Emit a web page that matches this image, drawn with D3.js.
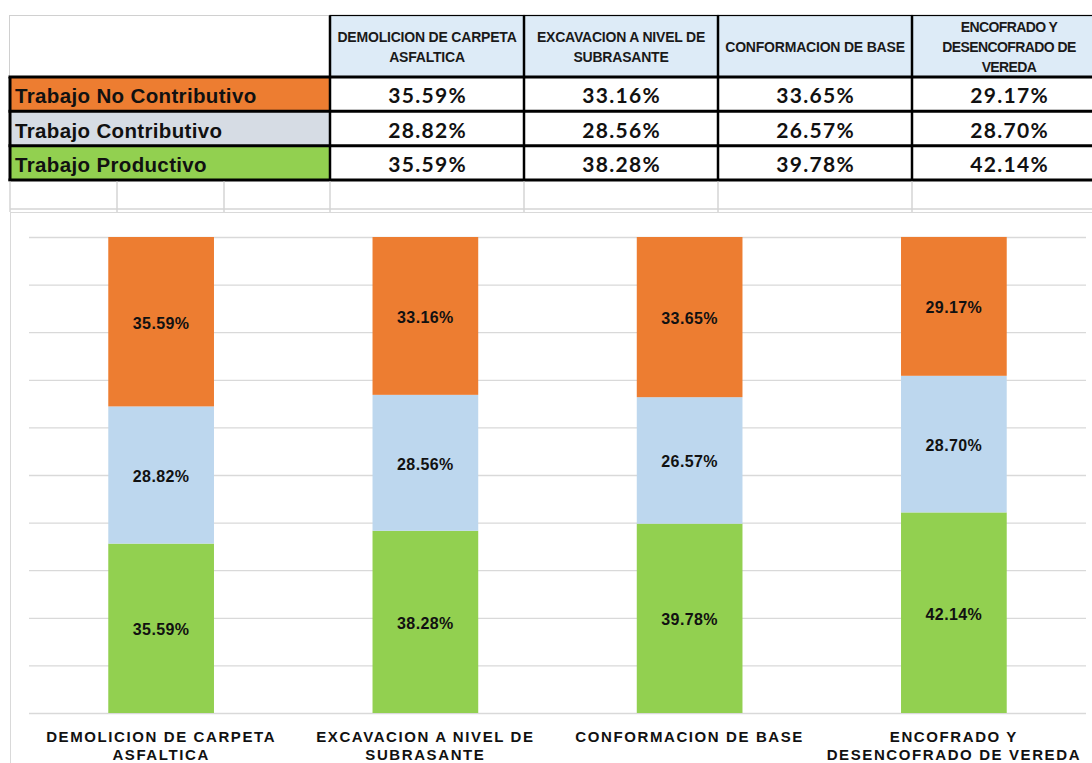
<!DOCTYPE html>
<html>
<head>
<meta charset="utf-8">
<script src="https://cdn.jsdelivr.net/npm/d3@7/dist/d3.min.js"></script>
<style>
  body { margin: 0; background: #fff; }
  svg { display: block; }
</style>
</head>
<body>
<div id="chart"></div>
<script>
// activities (table columns / chart categories)
const categories = ["DEMOLICION DE CARPETA ASFALTICA", "EXCAVACION A NIVEL DE SUBRASANTE", "CONFORMACION DE BASE", "ENCOFRADO Y DESENCOFRADO DE VEREDA"];
const headerLines = [["DEMOLICION DE CARPETA", "ASFALTICA"], ["EXCAVACION A NIVEL DE", "SUBRASANTE"], ["CONFORMACION DE BASE"], ["ENCOFRADO Y", "DESENCOFRADO DE", "VEREDA"]];
const axisLines = [["DEMOLICION DE CARPETA", "ASFALTICA"], ["EXCAVACION A NIVEL DE", "SUBRASANTE"], ["CONFORMACION DE BASE"], ["ENCOFRADO Y", "DESENCOFRADO DE VEREDA"]];

const seriesNames = ["Trabajo No Contributivo", "Trabajo Contributivo", "Trabajo Productivo"];
const noContributivo = [35.59, 33.16, 33.65, 29.17];
const contributivo = [28.82, 28.56, 26.57, 28.70];
const productivo = [35.59, 38.28, 39.78, 42.14];
const yTicks = [0, 10, 20, 30, 40, 50, 60, 70, 80, 90, 100];

const colors = { noContributivo: "#ED7D31", contributivo: "#BDD7EE", productivo: "#92D050" };
const rowFill = ["#ED7D31", "#D6DCE4", "#92D050"];

const width = 1092, height = 763;
const svg = d3.select("#chart").append("svg")
  .attr("width", width)
  .attr("height", height);

const arial = "'Liberation Sans', Arial, sans-serif";
const fmt = v => v.toFixed(2) + "%";

// ---------- table ----------
const tableTop = 15.5, headBottom = 77;
const rowY = d3.scaleBand().domain(seriesNames).range([headBottom, 180]);
const colX = d3.scaleBand().domain(categories).range([330, 330 + 4 * 194]);
const rowValues = [noContributivo, contributivo, productivo];

// header cells
svg.append("rect").attr("x", 9.5).attr("y", tableTop).attr("width", 320).attr("height", headBottom - tableTop)
  .attr("fill", "#fff").attr("stroke", "#d0d0d0");
svg.selectAll(".hcell").data(categories).enter().append("rect")
  .attr("x", d => colX(d)).attr("y", tableTop)
  .attr("width", colX.bandwidth()).attr("height", headBottom - tableTop)
  .attr("fill", "#DDEBF7").attr("stroke", "#000").attr("stroke-width", 1.2);

headerLines.forEach((lines, i) => {
  const cx = colX(categories[i]) + colX.bandwidth() / 2;
  const lh = 20;
  const y0 = 52 - (lines.length - 1) * lh / 2;
  svg.append("text")
    .attr("text-anchor", "middle")
    .style("font-family", arial).style("font-weight", "bold")
    .style("font-size", "14px")
    .style("letter-spacing", i === 3 ? "-0.6px" : "-0.2px")
    .attr("fill", "#1a1a1a")
    .selectAll("tspan").data(lines).enter().append("tspan")
    .attr("x", cx).attr("y", (d, j) => y0 + j * lh)
    .text(d => d);
});

// rows
seriesNames.forEach((name, r) => {
  const y = rowY(name), h = rowY.bandwidth();
  svg.append("rect").attr("x", 9.5).attr("y", y).attr("width", 320.5).attr("height", h)
    .attr("fill", rowFill[r]);
  svg.append("text")
    .attr("x", 15).attr("y", y + h - 8)
    .style("font-family", arial).style("font-weight", "bold").style("font-size", "20.5px")
    .style("letter-spacing", "0.35px")
    .attr("fill", "#111")
    .text(name);
  rowValues[r].forEach((v, c) => {
    svg.append("text")
      .attr("x", colX(categories[c]) + colX.bandwidth() / 2 + 0.7)
      .attr("y", y + h - 8)
      .attr("text-anchor", "middle")
      .style("font-family", "Lato, 'Open Sans', sans-serif").style("font-weight", "bold").style("font-size", "21px")
      .style("letter-spacing", "1.3px")
      .attr("fill", "#111")
      .text(fmt(v));
  });
});

// thick row borders
[headBottom, ...seriesNames.map(n => rowY(n) + rowY.bandwidth())].forEach(y => {
  svg.append("line").attr("x1", 8.5).attr("x2", width).attr("y1", y).attr("y2", y)
    .attr("stroke", "#000").attr("stroke-width", 3);
});
svg.append("line").attr("x1", 10).attr("x2", 10).attr("y1", headBottom).attr("y2", 181)
  .attr("stroke", "#000").attr("stroke-width", 3);
categories.forEach(c => {
  svg.append("line").attr("x1", colX(c)).attr("x2", colX(c)).attr("y1", tableTop).attr("y2", 181)
    .attr("stroke", "#000").attr("stroke-width", 2.5);
});

// empty spreadsheet row below table
const gridGray = "#d4d4d4";
[10, 117, 224, ...categories.map(c => colX(c))].forEach(x => {
  svg.append("line").attr("x1", x).attr("x2", x).attr("y1", 181.5).attr("y2", 212)
    .attr("stroke", gridGray).attr("stroke-width", 1.5);
});
svg.append("line").attr("x1", 10).attr("x2", width).attr("y1", 209).attr("y2", 209)
  .attr("stroke", gridGray).attr("stroke-width", 1.5);

// ---------- chart ----------
const chartTop = 212.5;
svg.append("line").attr("x1", 10).attr("x2", width).attr("y1", chartTop).attr("y2", chartTop)
  .attr("stroke", "#d9d9d9").attr("stroke-width", 1);
svg.append("line").attr("x1", 10.5).attr("x2", 10.5).attr("y1", chartTop).attr("y2", height)
  .attr("stroke", "#d9d9d9").attr("stroke-width", 1);

const plot = { left: 29, right: 1086, top: 237, bottom: 713 };
const x = d3.scaleBand().domain(categories).range([plot.left, plot.right]).paddingInner(0.6).paddingOuter(0.3);
const y = d3.scaleLinear().domain([0, 100]).range([plot.bottom, plot.top]);

svg.append("g")
  .attr("transform", `translate(${plot.left},0)`)
  .call(d3.axisLeft(y).tickValues(yTicks).tickSize(-(plot.right - plot.left)).tickFormat(""))
  .call(g => g.select(".domain").remove())
  .call(g => g.selectAll(".tick line").attr("stroke", "#d9d9d9").attr("stroke-width", 1.3));

const table = categories.map((c, i) => ({
  category: c,
  productivo: productivo[i],
  contributivo: contributivo[i],
  noContributivo: noContributivo[i]
}));
const keys = ["productivo", "contributivo", "noContributivo"];
const stacked = d3.stack().keys(keys)(table);

const layers = svg.selectAll(".layer").data(stacked).enter().append("g")
  .attr("class", "layer")
  .attr("fill", d => colors[d.key]);

layers.selectAll("rect").data(d => d).enter().append("rect")
  .attr("x", d => x(d.data.category))
  .attr("y", d => y(d[1]))
  .attr("width", x.bandwidth())
  .attr("height", d => y(d[0]) - y(d[1]));

layers.each(function (layer) {
  d3.select(this).selectAll("text").data(layer).enter().append("text")
    .attr("x", d => x(d.data.category) + x.bandwidth() / 2)
    .attr("y", d => (y(d[0]) + y(d[1])) / 2 + 7)
    .attr("text-anchor", "middle")
    .attr("fill", "#111")
    .style("font-family", arial).style("font-weight", "bold").style("font-size", "16px")
    .style("letter-spacing", "0.4px")
    .text(d => fmt(d[1] - d[0]));
});

// category labels
axisLines.forEach((lines, i) => {
  svg.append("text")
    .attr("text-anchor", "middle")
    .style("font-family", arial).style("font-weight", "bold").style("font-size", "15px")
    .style("letter-spacing", "1.6px")
    .attr("fill", "#111")
    .selectAll("tspan").data(lines).enter().append("tspan")
    .attr("x", x(categories[i]) + x.bandwidth() / 2)
    .attr("y", (d, j) => 742 + j * 18)
    .text(d => d);
});
</script>
</body>
</html>
